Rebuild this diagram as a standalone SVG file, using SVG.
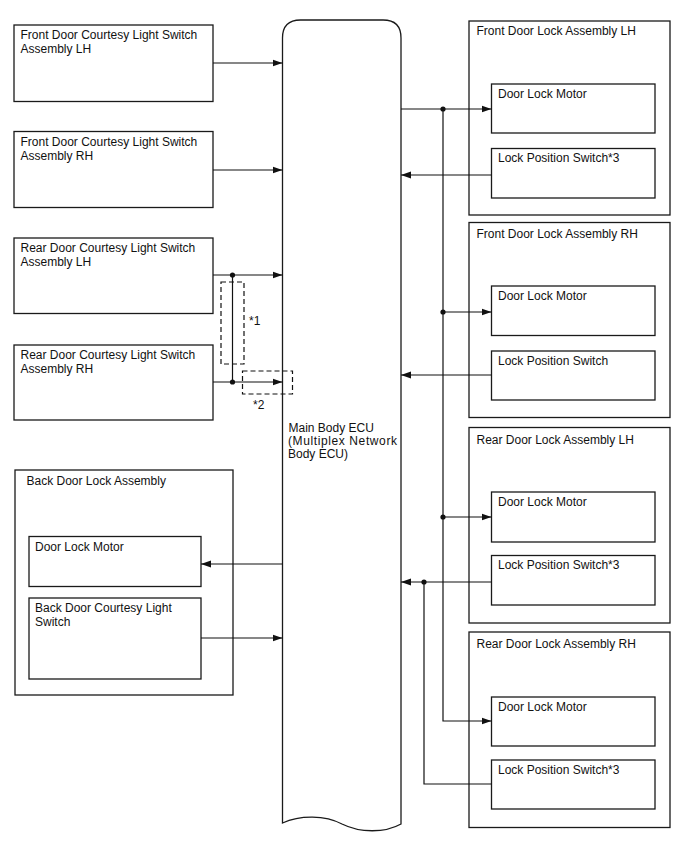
<svg xmlns="http://www.w3.org/2000/svg" width="688" height="852" viewBox="0 0 688 852">
<defs>
<marker id="arr" markerUnits="userSpaceOnUse" markerWidth="10" markerHeight="8" refX="10" refY="4" orient="auto">
<path d="M0,0.5 L10,4 L0,7.5 z" fill="#111"/>
</marker>
<style>
.box{fill:#fff;stroke:#1a1a1a;stroke-width:1.3}
.t{font-family:"Liberation Sans",Arial,sans-serif;font-size:12px;fill:#111}
.ln{fill:none;stroke:#111;stroke-width:1.2}
.dash{fill:none;stroke:#111;stroke-width:1.2;stroke-dasharray:5,3}
.dot{fill:#111}
</style>
</defs>
<rect width="688" height="852" fill="#fff"/>

<g id="ecu">
<path class="box" d="M282.5,823 L282.5,38 Q282.5,20 300.5,20 L383,20 Q401,20 401,38 L401,824 C385,833 360,833 342,824 C325,815 300,815 282.5,823 z"/>
<text class="t" x="288.5" y="432">Main Body ECU</text>
<text class="t" x="288" y="445" textLength="109" lengthAdjust="spacing">(Multiplex Network</text>
<text class="t" x="288" y="457.5">Body ECU)</text>
</g>

<g id="fd-cls-lh">
<rect class="box" x="14" y="25" width="199" height="76.5"/>
<text class="t" x="20.5" y="39">Front Door Courtesy Light Switch</text>
<text class="t" x="20.5" y="53">Assembly LH</text>
</g>
<g id="fd-cls-rh">
<rect class="box" x="14" y="131.5" width="199" height="76"/>
<text class="t" x="20.5" y="145.5">Front Door Courtesy Light Switch</text>
<text class="t" x="20.5" y="159.5">Assembly RH</text>
</g>
<g id="rd-cls-lh">
<rect class="box" x="14" y="238" width="199" height="75.5"/>
<text class="t" x="20.5" y="252">Rear Door Courtesy Light Switch</text>
<text class="t" x="20.5" y="266">Assembly LH</text>
</g>
<g id="rd-cls-rh">
<rect class="box" x="14" y="345" width="199" height="75"/>
<text class="t" x="20.5" y="359">Rear Door Courtesy Light Switch</text>
<text class="t" x="20.5" y="373">Assembly RH</text>
</g>

<g id="back-door">
<rect class="box" x="15" y="470" width="218" height="225"/>
<text class="t" x="26.5" y="485">Back Door Lock Assembly</text>
<g id="bd-motor">
<rect class="box" x="29" y="536.5" width="172" height="50"/>
<text class="t" x="35" y="550.5">Door Lock Motor</text>
</g>
<g id="bd-cls">
<rect class="box" x="29" y="598" width="172" height="81"/>
<text class="t" x="35" y="612">Back Door Courtesy Light</text>
<text class="t" x="35" y="626">Switch</text>
</g>
</g>

<g id="fdl-lh">
<rect class="box" x="469" y="21" width="201" height="194"/>
<text class="t" x="476.5" y="35">Front Door Lock Assembly LH</text>
<g id="fdl-lh-motor">
<rect class="box" x="491.5" y="84" width="163.5" height="49"/>
<text class="t" x="498" y="97.5">Door Lock Motor</text>
</g>
<g id="fdl-lh-sw">
<rect class="box" x="491.5" y="148.5" width="163.5" height="49.5"/>
<text class="t" x="498" y="162">Lock Position Switch*3</text>
</g>
</g>

<g id="fdl-rh">
<rect class="box" x="469" y="222.5" width="201" height="195"/>
<text class="t" x="476.5" y="238">Front Door Lock Assembly RH</text>
<g id="fdl-rh-motor">
<rect class="box" x="491.5" y="286" width="163.5" height="49.5"/>
<text class="t" x="498" y="299.5">Door Lock Motor</text>
</g>
<g id="fdl-rh-sw">
<rect class="box" x="491.5" y="351" width="163.5" height="49"/>
<text class="t" x="498" y="364.5">Lock Position Switch</text>
</g>
</g>

<g id="rdl-lh">
<rect class="box" x="469" y="427.5" width="201" height="195.5"/>
<text class="t" x="476.5" y="443.5">Rear Door Lock Assembly LH</text>
<g id="rdl-lh-motor">
<rect class="box" x="491.5" y="492" width="163.5" height="50"/>
<text class="t" x="498" y="505.5">Door Lock Motor</text>
</g>
<g id="rdl-lh-sw">
<rect class="box" x="491.5" y="555.5" width="163.5" height="49.5"/>
<text class="t" x="498" y="569">Lock Position Switch*3</text>
</g>
</g>

<g id="rdl-rh">
<rect class="box" x="469" y="632" width="201" height="195.5"/>
<text class="t" x="476.5" y="647.5">Rear Door Lock Assembly RH</text>
<g id="rdl-rh-motor">
<rect class="box" x="491.5" y="697" width="163.5" height="49"/>
<text class="t" x="498" y="710.5">Door Lock Motor</text>
</g>
<g id="rdl-rh-sw">
<rect class="box" x="491.5" y="760" width="163.5" height="49"/>
<text class="t" x="498" y="773.5">Lock Position Switch*3</text>
</g>
</g>

<g id="connectors">
<line class="ln" x1="213" y1="63" x2="282.5" y2="63" marker-end="url(#arr)"/>
<line class="ln" x1="213" y1="170" x2="282.5" y2="170" marker-end="url(#arr)"/>
<line class="ln" x1="213" y1="275" x2="282.5" y2="275" marker-end="url(#arr)"/>
<line class="ln" x1="213" y1="382" x2="282.5" y2="382" marker-end="url(#arr)"/>
<line class="ln" x1="232.5" y1="275" x2="232.5" y2="382"/>
<circle class="dot" cx="232.5" cy="275" r="2.6"/>
<circle class="dot" cx="232.5" cy="382" r="2.6"/>
<rect class="dash" x="221" y="282" width="23" height="82"/>
<rect class="dash" x="242.5" y="371" width="50" height="23"/>
<text class="t" x="249" y="325">*1</text>
<text class="t" x="253" y="409">*2</text>

<line class="ln" x1="282.5" y1="564" x2="201" y2="564" marker-end="url(#arr)"/>
<line class="ln" x1="201" y1="638" x2="282.5" y2="638" marker-end="url(#arr)"/>

<line class="ln" x1="401" y1="109" x2="491.5" y2="109" marker-end="url(#arr)"/>
<line class="ln" x1="491.5" y1="175" x2="401" y2="175" marker-end="url(#arr)"/>
<path class="ln" d="M443,109 L443,721 L491.5,721" marker-end="url(#arr)"/>
<line class="ln" x1="443" y1="312" x2="491.5" y2="312" marker-end="url(#arr)"/>
<line class="ln" x1="491.5" y1="375" x2="401" y2="375" marker-end="url(#arr)"/>
<line class="ln" x1="443" y1="517" x2="491.5" y2="517" marker-end="url(#arr)"/>
<line class="ln" x1="491.5" y1="582" x2="401" y2="582" marker-end="url(#arr)"/>
<path class="ln" d="M424,582 L424,784 L491.5,784"/>
<circle class="dot" cx="443" cy="109" r="2.6"/>
<circle class="dot" cx="443" cy="312" r="2.6"/>
<circle class="dot" cx="443" cy="517" r="2.6"/>
<circle class="dot" cx="424" cy="582" r="2.6"/>
</g>
</svg>
